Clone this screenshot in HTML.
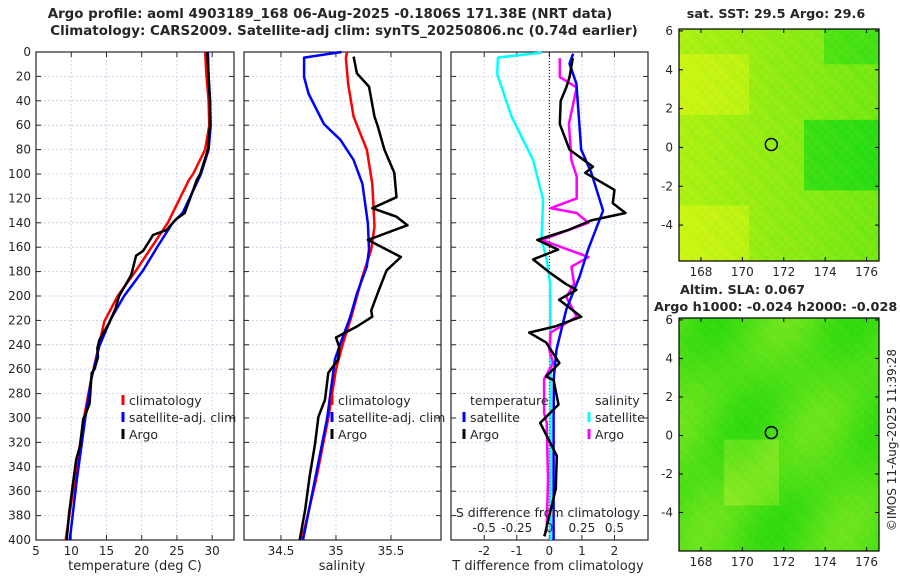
<!DOCTYPE html>
<html><head><meta charset="utf-8"><style>
body{margin:0;background:#fff}
svg text{font-family:"DejaVu Sans","Liberation Sans",sans-serif;fill:#262626}
</style></head><body>
<svg id="s" width="900" height="580" xmlns="http://www.w3.org/2000/svg">
<text x="330" y="18" text-anchor="middle" font-size="13.4" font-weight="bold" fill="#000">Argo profile: aoml 4903189_168 06-Aug-2025 -0.1806S 171.38E (NRT data)</text>
<text x="344" y="35" text-anchor="middle" font-size="13.4" font-weight="bold" fill="#000">Climatology: CARS2009. Satellite-adj clim: synTS_20250806.nc (0.74d earlier)</text>
<text x="776" y="18" text-anchor="middle" font-size="12.8" font-weight="bold" fill="#000">sat. SST: 29.5 Argo: 29.6</text>
<text x="680" y="294" font-size="12.8" font-weight="bold" fill="#000">Altim. SLA: 0.067</text>
<text x="654" y="311" font-size="12.8" font-weight="bold" fill="#000">Argo h1000: -0.024 h2000: -0.028</text>
<text transform="translate(896,440) rotate(-90)" text-anchor="middle" font-size="12">©IMOS 11-Aug-2025 11:39:28</text>
<g id="g"></g>
</svg>
<script>
// depth grid
const depthTicks=[0,20,40,60,80,100,120,140,160,180,200,220,240,260,280,300,320,340,360,380,400];
// temperature panel
const tTicks=[5,10,15,20,25,30];
const tClimD=[0,20,40,60,80,100,105,140,179,200,221,269,300,350,400];
const tClim=[29.0,29.2,29.5,29.6,29.0,27.3,26.7,23.7,19.2,16.6,14.7,12.8,11.8,10.5,9.2];
const tSatD=[0,20,40,60,80,100,105,132,140,159,179,200,219,241,269,300,350,400];
const tSat=[29.4,29.5,29.7,29.8,29.5,28.4,28.0,25.8,24.4,22.3,20.2,17.5,15.6,14.0,12.8,12.0,10.8,9.8];
const tArgoD=[0,20,40,60,80,100,105,118,132,137,146,150,152,163,167,183,200,210,222,236,243,250,260,263,288,296,301,323,334,356,378,400];
const tArgo=[29.3,29.5,29.7,29.7,29.4,28.3,27.8,27.0,26.1,24.9,23.5,21.6,21.4,20.2,19.2,18.5,16.8,16.3,15.4,14.0,13.7,13.8,13.3,12.9,12.6,12.1,11.7,11.25,10.7,10.2,9.7,9.35];
// salinity panel
const sTicks=[34.5,35,35.5];
const sClimD=[0,5,26,53,80,108,143,162,184,217,240,260,300,350,400];
const sClim=[35.1,35.09,35.11,35.16,35.28,35.33,35.35,35.32,35.24,35.14,35.06,35.0,34.93,34.82,34.69];
const sSatD=[0,4.6,20.6,34,59,72,88.5,108,140.6,162,176,198,217,239,252,300,350,400];
const sSat=[35.05,34.71,34.71,34.75,34.89,35.04,35.16,35.24,35.29,35.3,35.28,35.19,35.13,35.04,34.99,34.92,34.81,34.7];
const sArgoD=[3.8,17.5,28.4,53,61,80,99,119,128,135,142,154,168,179,195,212,217,225,234,242,252,263,285,299,321,348,375,400];
const sArgo=[35.16,35.19,35.3,35.35,35.38,35.44,35.53,35.55,35.33,35.55,35.65,35.29,35.59,35.46,35.39,35.32,35.33,35.19,35.0,35.03,35.02,34.93,34.9,34.84,34.81,34.76,34.72,34.67];
// difference panel
const dTicks=[-2,-1,0,1,2];
const dSTicks=[-0.5,-0.25,0,0.25,0.5];
const dSatTD=[1.4,9.6,26,80,99,130,162,184,211,244,266,300,400];
const dSatT=[0.73,0.62,0.83,0.98,1.29,1.65,1.19,0.93,0.52,0.22,0.14,0.13,0.13];
const dArgoTD=[5,20.6,29,40,59,80,94,99,113,124,132,138,146,154,162,170,181,190,195,203,217,225,230,238,255,266,269,289,304,331,358,391,397];
const dArgoT=[0.72,0.62,0.52,0.35,0.32,0.62,1.34,1.1,2.0,1.95,2.34,1.29,0.57,-0.37,0.27,-0.5,0.02,0.5,0.83,0.3,0.98,0.17,-0.62,-0.1,0.31,-0.1,0.13,0.28,-0.28,0.23,0.2,-0.1,-0.15];
const dSatSD=[0.4,4.6,18,53,88.5,121,154,168,190,266,330,400];
const dSatS=[-0.056,-0.395,-0.4,-0.29,-0.125,-0.048,-0.06,-0.023,0.006,0.01,0.01,0.01];
const dArgoSD=[5,20.6,29,59,89,102,120,128,132,140,154,168,176,190,201,217,230,244,255,268,296,304,350,391,397];
const dArgoS=[0.08,0.08,0.21,0.15,0.17,0.21,0.21,0.01,0.21,0.3,-0.06,0.3,0.17,0.19,0.13,0.21,0.01,0.0,0.03,-0.04,-0.04,-0.02,-0.01,-0.02,-0.04];
// maps
const lonTicks=[168,170,172,174,176];
const latTicks=[-4,-2,0,2,4,6];
const argoLon=171.4, argoLat=0.15;

const NS='http://www.w3.org/2000/svg';
const G=document.getElementById('g');
function el(t,a,p){const e=document.createElementNS(NS,t);for(const k in a)e.setAttribute(k,a[k]);(p||G).appendChild(e);return e;}
const Y0=52,Y1=540;
const y=d=>Y0+d/400*(Y1-Y0);
function panel(name,x0,x1,xa,ticks,fmt,showY){
  const xf=v=>x0+(v-xa[0])/(xa[1]-xa[0])*(x1-x0);
  const g=el('g',{});
  
  
  depthTicks.forEach(d=>{
    el('line',{x1:x0,x2:x1,y1:y(d),y2:y(d),stroke:'#c4cce8','stroke-width':0.8,'stroke-dasharray':'2,2'},g);
    el('line',{x1:x0,x2:x0+5,y1:y(d),y2:y(d),stroke:'#262626'},g);
    el('line',{x1:x1,x2:x1-5,y1:y(d),y2:y(d),stroke:'#262626'},g);
    if(showY){const t=el('text',{x:x0-5,y:y(d)+4,'text-anchor':'end','font-size':12},g);t.textContent=d;}
  });
  ticks.forEach(v=>{
    const X=xf(v);
    el('line',{x1:X,x2:X,y1:Y0,y2:Y1,stroke:'#c4cce8','stroke-width':0.8,'stroke-dasharray':'2,2'},g);
    el('line',{x1:X,x2:X,y1:Y1,y2:Y1-5,stroke:'#262626'},g);
    el('line',{x1:X,x2:X,y1:Y0,y2:Y0+5,stroke:'#262626'},g);
    const t=el('text',{x:X,y:Y1+15,'text-anchor':'middle','font-size':12},g);t.textContent=fmt(v);
  });
  el('rect',{x:x0,y:Y0,width:x1-x0,height:Y1-Y0,fill:'none',stroke:'#262626','stroke-width':1.2},g);
  return xf;
}
function line(name,xf,ds,vs,col,w){
  const p=el('polyline',{points:ds.map((d,i)=>xf(vs[i]).toFixed(1)+','+y(d).toFixed(1)).join(' '),fill:'none',stroke:col,'stroke-width':w||2.5,'stroke-linejoin':'round'});
  
  
}
function txt(name,x,yy,s,size,anchor){const t=el('text',{x:x,y:yy,'font-size':size||12.5,'text-anchor':anchor||'start'});t.textContent=s;
  
  return t;}
function leg(name,x,yy,col,label){
  const g=el('g',{});
  
  
  el('line',{x1:x,x2:x,y1:yy-10,y2:yy,stroke:col,'stroke-width':3},g);
  const t=el('text',{x:x+6,y:yy,'font-size':12.5},g);t.textContent=label;
}
// Panel 1
const xT=panel('temperature-panel',36,234,[5,33.1],tTicks,v=>v,true);
line('temperature-climatology-line',xT,tClimD,tClim,'#ff0000');
line('temperature-satellite-line',xT,tSatD,tSat,'#0000ff');
line('temperature-argo-line',xT,tArgoD,tArgo,'#000');
txt('temperature-x-title',135,570,'temperature (deg C)',13,'middle');
leg('legend-climatology',123,405,'#ff0000','climatology');
leg('legend-satellite-adj',123,422,'#0000ff','satellite-adj. clim');
leg('legend-argo',123,439,'#000','Argo');
// Panel 2
const xS=panel('salinity-panel',244,441,[34.164,35.955],sTicks,v=>v,false);
line('salinity-climatology-line',xS,sClimD,sClim,'#ff0000');
line('salinity-satellite-line',xS,sSatD,sSat,'#0000ff');
line('salinity-argo-line',xS,sArgoD,sArgo,'#000');
txt('salinity-x-title',342,570,'salinity',13,'middle');
leg('legend-s-climatology',332,405,'#ff0000','climatology');
leg('legend-s-satellite-adj',332,422,'#0000ff','satellite-adj. clim');
leg('legend-s-argo',332,439,'#000','Argo');
// Panel 3
const xD=panel('difference-panel',451,648,[-3.02,3.03],dTicks,v=>v,false);
const xDS=v=>xD(v*4);
el('line',{x1:xD(0),x2:xD(0),y1:Y0,y2:Y1,stroke:'#000','stroke-width':1,'stroke-dasharray':'1,2'});
line('s-diff-satellite-line',xDS,dSatSD,dSatS,'#00ffff');
line('s-diff-argo-line',xDS,dArgoSD,dArgoS,'#ff00ff');
line('t-diff-satellite-line',xD,dSatTD,dSatT,'#0000ff');
line('t-diff-argo-line',xD,dArgoTD,dArgoT,'#000');
dSTicks.forEach(v=>txt('s-diff-tick',xDS(v),532,String(v),12,'middle'));
txt('s-diff-axis-title',548,517,'S difference from climatology',12.5,'middle');
txt('t-diff-axis-title',548,570,'T difference from climatology',13,'middle');
txt('legend-temperature-heading',470,405,'temperature',12.5);
leg('legend-t-satellite',464,422,'#0000ff','satellite');
leg('legend-t-argo',464,439,'#000','Argo');
txt('legend-salinity-heading',595,405,'salinity',12.5);
leg('legend-s-satellite',589,422,'#00ffff','satellite');
leg('legend-s-argo',589,439,'#ff00ff','Argo');
// maps
function map(name,top,bot,latTop,latBot,colorFn){
  const x0=679,x1=879,lonA=166.94,lonB=176.6;
  const xf=v=>x0+(v-lonA)/(lonB-lonA)*(x1-x0);
  const yf=v=>top+(latTop-v)/(latTop-latBot)*(bot-top);
  const g=el('g',{});
  
  
  const nx=40,ny=46,cw=(x1-x0)/nx,ch=(bot-top)/ny;
  for(let i=0;i<nx;i++)for(let j=0;j<ny;j++){
    el('rect',{x:x0+i*cw,y:top+j*ch,width:cw+0.5,height:ch+0.5,fill:colorFn(i/nx,j/ny,i,j)},g);
  }
  el('rect',{x:x0,y:top,width:x1-x0,height:bot-top,fill:'none',stroke:'#000','stroke-width':1.2},g);
  lonTicks.forEach(v=>{el('line',{x1:xf(v),x2:xf(v),y1:bot,y2:bot-4,stroke:'#000'},g);el('line',{x1:xf(v),x2:xf(v),y1:top,y2:top+4,stroke:'#000'},g);
    const t=el('text',{x:xf(v),y:bot+15,'text-anchor':'middle','font-size':12},g);t.textContent=v;});
  latTicks.forEach(v=>{el('line',{x1:x0,x2:x0+4,y1:yf(v),y2:yf(v),stroke:'#000'},g);el('line',{x1:x1,x2:x1-4,y1:yf(v),y2:yf(v),stroke:'#000'},g);
    const t=el('text',{x:x0-6,y:yf(v)+4,'text-anchor':'end','font-size':12},g);t.textContent=v;});
  const c=el('circle',{cx:xf(argoLon),cy:yf(argoLat),r:6,fill:'none',stroke:'#000','stroke-width':1.5},g);
  
  
}
function mix(a,b,t){t=Math.max(0,Math.min(1,t));return 'rgb('+a.map((v,k)=>Math.round(v+(b[k]-v)*t)).join(',')+')';}
const noise=(i,j)=>((i*7+j*13)%5)/5;
map('sst-map',29,261,6.1,-5.85,(u,v,i,j)=>{
  let g=0.15+u*0.35;
  if(u>0.62&&v>0.38&&v<0.68)g+=0.45;
  if(u>0.7&&v<0.15)g+=0.3;
  if(u<0.35&&((v>0.1&&v<0.35)||v>0.75))g-=0.2;
  return mix([205,245,20],[40,220,20],g+noise(i,j)*0.12);
});
map('sla-map',318,551,6.1,-6.0,(u,v,i,j)=>{
  let g=0.55+0.25*Math.sin(u*9+v*4)*Math.cos(v*7);
  if(u>0.2&&u<0.5&&v>0.5&&v<0.8)g-=0.35;
  return mix([150,235,40],[30,215,10],g+noise(i,j)*0.1);
});
</script>
</body></html>
